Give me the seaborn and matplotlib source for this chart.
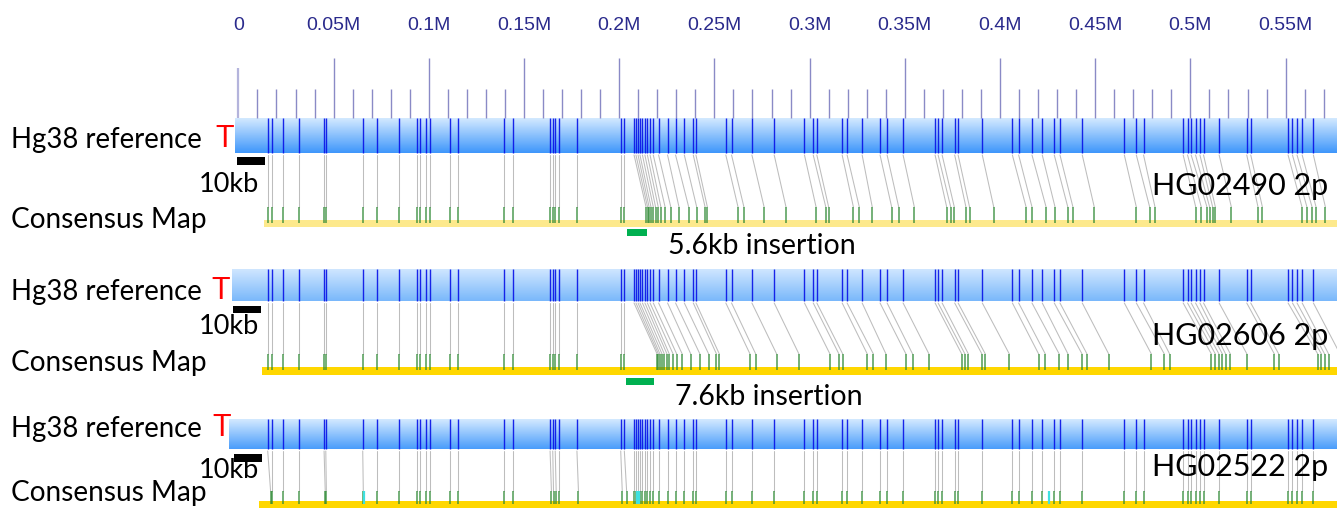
import numpy as np
import pandas as pd
import matplotlib
matplotlib.use("Agg")
import matplotlib.pyplot as plt
from matplotlib.colors import LinearSegmentedColormap
import seaborn as sns

# ==========================
# Data (positions in kb)
# ==========================
ruler_kb = [0, 50, 100, 150, 200, 250, 300, 350, 400, 450, 500, 550]
ruler_labels = ["0", "0.05M", "0.1M", "0.15M", "0.2M", "0.25M", "0.3M",
                "0.35M", "0.4M", "0.45M", "0.5M", "0.55M"]
minor_kb = [10, 20, 30, 40, 60, 70, 80, 90, 110, 120, 130, 140, 160, 170, 180, 190,
            210, 220, 230, 240, 260, 270, 280, 290, 310, 320, 330, 340, 360, 370,
            380, 390, 410, 420, 430, 440, 460, 470, 480, 490, 510, 520, 530, 540,
            560, 570]

# Hg38 reference labels
ref_kb = [15.4, 17.5, 23.6, 31.8, 45.0, 45.9, 65.3, 72.6, 84.2, 94.0, 95.4, 98.4,
          100.6, 111.3, 115.2, 139.3, 144.4, 163.7, 165.1, 166.4, 168.5, 177.8, 200.8, 202.7,
          207.8, 208.8, 209.9, 210.9, 212.2, 213.5, 214.8, 216.2, 217.9, 220.7, 225.4,
          229.6, 234.2, 238.9, 240.3,
          256.0, 259.0, 269.7, 281.4, 297.3, 301.9, 303.8, 317.1, 319.7, 327.6,
          337.0, 340.7, 349.1, 365.9, 367.5, 369.6, 376.2, 378.0, 390.7, 406.5,
          409.8, 416.8, 422.2, 428.5, 431.5, 443.2, 465.3, 471.6, 475.4, 496.2,
          498.5, 500.4, 502.7, 505.0, 506.9, 515.1, 529.6, 531.7, 551.3, 553.6,
          556.0, 558.7, 564.6]

# consensus labels, same order as ref_kb (aligned pairs)
cons1_kb = [15.4, 17.5, 23.6, 31.8, 45.0, 45.9, 65.3, 72.6, 84.2, 94.0, 95.4, 98.4,
            100.6, 111.3, 115.2, 139.3, 144.4, 163.7, 165.1, 166.4, 168.5, 177.8, 200.8, 202.7,
            214.1, 214.9, 215.7, 216.7, 217.9, 219.1, 220.5, 221.9, 224.1, 227.1, 231.4,
            236.5, 240.7, 245.1, 246.3,
            262.4, 265.5, 276.1, 287.6, 303.4, 308.5, 310.0, 323.0, 326.1, 332.9,
            343.1, 346.8, 355.0, 372.0, 374.1, 376.0, 382.1, 384.0, 396.7, 413.7,
            416.8, 424.2, 428.9, 435.6, 438.3, 449.5, 471.6, 478.6, 481.4, 502.8,
            505.7, 508.7, 510.1, 511.7, 513.1, 521.5, 535.5, 537.8, 558.6, 561.2,
            563.9, 566.0, 570.9]

cons2_kb = [15.4, 17.5, 23.6, 31.8, 45.0, 45.9, 65.3, 72.6, 84.2, 94.0, 95.4, 98.4,
            100.6, 111.3, 115.2, 139.3, 144.4, 163.7, 165.1, 166.4, 168.5, 177.8, 200.8, 202.7,
            219.9, 220.6, 221.4, 222.5, 223.7, 225.1, 226.3, 228.3, 230.2, 233.1, 237.6,
            242.4, 247.0, 251.1, 252.6,
            268.7, 271.7, 282.7, 294.4, 310.7, 315.4, 317.4, 330.3, 333.5, 340.1,
            350.6, 354.1, 362.7, 379.9, 381.6, 383.4, 390.5, 392.3, 404.9, 420.3,
            423.8, 431.1, 435.7, 443.1, 445.7, 457.1, 479.5, 486.3, 489.1, 511.0,
            513.1, 515.0, 516.8, 518.5, 521.0, 529.7, 544.1, 546.4, 566.9, 568.8,
            570.5, 572.6, 578.6]

cons3_kb = [16.9, 17.5, 23.6, 31.8, 45.6, 46.2, 65.6, 72.6, 84.2, 94.0, 95.4, 98.4,
            100.6, 111.3, 115.2, 139.3, 144.4, 164.4, 165.5, 166.9, 168.5, 178.6, 201.6, 203.9,
            207.8, 208.8, 209.9, 210.9, 212.2, 213.5, 214.8, 216.2, 217.9, 220.7, 225.4,
            229.6, 234.2, 238.9, 240.3,
            256.0, 259.0, 269.7, 281.4, 297.3, 301.9, 303.8, 317.1, 319.7, 327.6,
            337.0, 340.7, 349.1, 365.9, 367.5, 369.6, 376.2, 378.0, 390.7, 406.5,
            409.8, 416.8, 422.2, 428.5, 431.5, 443.2, 465.3, 471.6, 475.4, 496.2,
            498.5, 500.4, 502.7, 505.0, 506.9, 515.1, 529.6, 531.7, 551.3, 553.6,
            556.0, 558.7, 564.6]
unaligned3_kb = [66.1, 209.3, 210.4, 425.7]

samples = ["HG02490 2p", "HG02606 2p", "HG02522 2p"]
insertions = ["5.6kb insertion", "7.6kb insertion", None]

# ==========================
# Layout (pixel rows)
# ==========================
W, H = 1337, 508
X0, SCALE = 238.4, 1.904


def kb(px):
    return (px - X0) / SCALE


rows = [
    dict(ref_y=(118, 153), ref_x=235, cons_y=(207, 223), bar_y=(220, 227), bar_x=264,
         bar_col="#fde98c", grad=("#d3e9ff", "#3f97fb"), scale=(237, 265, 157, 165),
         ins=(627, 647, 229, 236), ins_text=(668, 246), sample_y=186,
         ref_text_y=140, cons_text_y=220, kb_text_y=184, t_x=215),
    dict(ref_y=(269, 301), ref_x=232, cons_y=(354, 370), bar_y=(367, 375), bar_x=262,
         bar_col="#ffd700", grad=("#cfe6ff", "#7ab8fb"), scale=(233, 261, 306, 313),
         ins=(626, 654, 378, 385), ins_text=(675, 397), sample_y=336,
         ref_text_y=292, cons_text_y=363, kb_text_y=326, t_x=211),
    dict(ref_y=(419, 449), ref_x=229, cons_y=(491, 504), bar_y=(501, 508), bar_x=259,
         bar_col="#ffd700", grad=("#d3e9ff", "#4a9dfb"), scale=(234, 262, 454, 462),
         ins=None, ins_text=None, sample_y=467,
         ref_text_y=429, cons_text_y=493, kb_text_y=471, t_x=212),
]
cons_sets = [cons1_kb, cons2_kb, cons3_kb]

sns.set_theme(style="white")
plt.rcParams["font.family"] = ["Lato", "DejaVu Sans"]

fig = plt.figure(figsize=(W / 100, H / 100), dpi=100)
ax = fig.add_axes([0, 0, 1, 1])
ax.set_axis_off()

# ==========================
# Ruler
# ==========================
ax.vlines(ruler_kb[1:], 58, 118, color="#8a8ac6", lw=1.0)
ax.vlines([0], 68, 118, color="#b4b4dc", lw=1.6)
ax.vlines(minor_kb, 89, 118, color="#8a8ac6", lw=1.0)
for v, lab in zip(ruler_kb, ruler_labels):
    ax.text(v, 25, lab, ha="center", va="center", fontsize=14, color="#2a2a8c",
            family=["Liberation Sans Narrow", "Liberation Sans"])

# ==========================
# Tracks
# ==========================
grad = np.linspace(0, 1, 64)[:, None]
for r, cons, sample, ins_lab in zip(rows, cons_sets, samples, insertions):
    y0, y1 = r["ref_y"]
    cmap = LinearSegmentedColormap.from_list("g", list(r["grad"]))
    ax.imshow(grad, cmap=cmap, aspect="auto", origin="upper",
              extent=[kb(r["ref_x"]), kb(W + 2), y1, y0], zorder=1)
    ax.vlines(ref_kb, y0, y1, color="#0a14e8", lw=1.0, alpha=0.92, zorder=2)

    # alignment lines
    c0, c1 = r["cons_y"]
    df = pd.DataFrame({
        "x": np.concatenate([ref_kb, cons]),
        "y": [y1 + 2] * len(ref_kb) + [c0] * len(cons),
        "pair": list(range(len(ref_kb))) * 2,
    })
    sns.lineplot(data=df, x="x", y="y", units="pair", estimator=None, sort=False,
                 color="#bdbdbd", lw=0.75, ax=ax, zorder=2, legend=False)

    # consensus map
    b0, b1 = r["bar_y"]
    ax.fill_between([kb(r["bar_x"]), kb(W + 2)], b0, b1, color=r["bar_col"], lw=0, zorder=2)
    ax.vlines(cons, c0, c1, color="#2f8a35", lw=1.1, alpha=0.85, zorder=3)

    # scale bar
    sx0, sx1, sy0, sy1 = r["scale"]
    ax.fill_between([kb(sx0), kb(sx1)], sy0, sy1, color="black", lw=0, zorder=3)
    ax.text(kb(229), r["kb_text_y"], "10kb", ha="center", va="center", fontsize=19.5,
            color="black")

    # insertion marker
    if r["ins"] is not None:
        ix0, ix1, iy0, iy1 = r["ins"]
        ax.fill_between([kb(ix0), kb(ix1)], iy0, iy1, color="#00b050", lw=0, zorder=3)
        ax.text(kb(r["ins_text"][0]), r["ins_text"][1], ins_lab, ha="left", va="center",
                fontsize=20.5, color="black")

    ax.text(kb(11), r["ref_text_y"], "Hg38 reference", ha="left", va="center",
            fontsize=19.8, color="black")
    ax.text(kb(r["t_x"]), r["ref_text_y"] - 1, "T", ha="left", va="center",
            fontsize=22, color="#ff0000", family=["Liberation Sans", "DejaVu Sans"])
    ax.text(kb(11), r["cons_text_y"], "Consensus Map", ha="left", va="center",
            fontsize=20.2, color="black")
    ax.text(kb(1328), r["sample_y"], sample, ha="right", va="center",
            fontsize=22, color="black")

ax.vlines(unaligned3_kb, rows[2]["cons_y"][0], rows[2]["cons_y"][1],
          color="#3fe0e0", lw=1.6, zorder=4)

ax.set_xlim(kb(0), kb(W))
ax.set_ylim(H, 0)

plt.savefig("out.png", dpi=100)
